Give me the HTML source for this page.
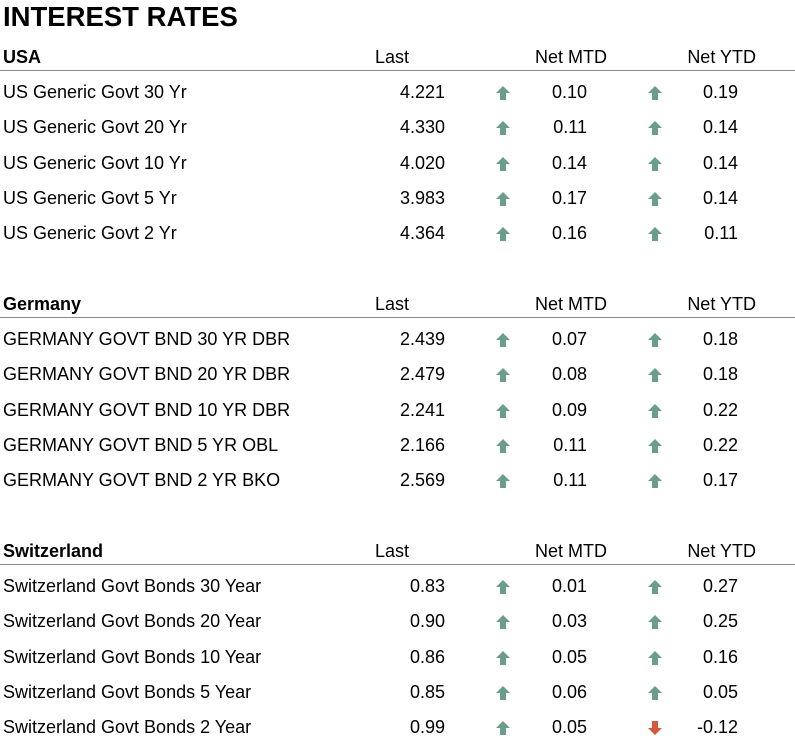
<!DOCTYPE html>
<html><head><meta charset="utf-8"><style>
body{margin:0;width:795px;height:742px;background:#fff;font-family:"Liberation Sans",sans-serif;color:#000;position:relative;overflow:hidden}
.t{position:absolute;white-space:nowrap;font-size:18px;line-height:20px}
.h{font-weight:bold}
.r{text-align:right}
.line{position:absolute;left:0;width:795px;height:1px;background:#8a8a8a}
svg.a{position:absolute}
</style></head><body>
<div class="t h" style="left:3px;top:2px;font-size:27.5px;line-height:30px">INTEREST RATES</div>
<div id="root"></div>
<script>
const sections=["USA","Germany","Switzerland"];
const names=[
["US Generic Govt 30 Yr","US Generic Govt 20 Yr","US Generic Govt 10 Yr","US Generic Govt 5 Yr","US Generic Govt 2 Yr"],
["GERMANY GOVT BND 30 YR DBR","GERMANY GOVT BND 20 YR DBR","GERMANY GOVT BND 10 YR DBR","GERMANY GOVT BND 5 YR OBL","GERMANY GOVT BND 2 YR BKO"],
["Switzerland Govt Bonds 30 Year","Switzerland Govt Bonds 20 Year","Switzerland Govt Bonds 10 Year","Switzerland Govt Bonds 5 Year","Switzerland Govt Bonds 2 Year"]];
const lastVals=[["4.221","4.330","4.020","3.983","4.364"],["2.439","2.479","2.241","2.166","2.569"],["0.83","0.90","0.86","0.85","0.99"]];
const mtdVals=[["0.10","0.11","0.14","0.17","0.16"],["0.07","0.08","0.09","0.11","0.11"],["0.01","0.03","0.05","0.06","0.05"]];
const ytdVals=[["0.19","0.14","0.14","0.14","0.11"],["0.18","0.18","0.22","0.22","0.17"],["0.27","0.25","0.16","0.05","-0.12"]];
const root=document.getElementById('root');
function txt(s,x,y,cls,name,w){const d=document.createElement('div');d.className='t '+cls;d.textContent=s;d.style.top=y+'px';
 if(w){d.style.left=(x-w)+'px';d.style.width=w+'px';}else d.style.left=x+'px';
 
 
 root.appendChild(d);}
function arrow(x,y,v,name){const up=parseFloat(v)>=0;const ns='http://www.w3.org/2000/svg';const s=document.createElementNS(ns,'svg');
 s.setAttribute('class','a');s.setAttribute('width','16');s.setAttribute('height','16');s.style.left=x+'px';s.style.top=y+'px';
 const p=document.createElementNS(ns,'path');
 p.setAttribute('d',up?'M8 1 L15 8 L11 8 L11 15 L5 15 L5 8 L1 8 Z':'M8 15 L15 8 L11 8 L11 1 L5 1 L5 8 L1 8 Z');
 p.setAttribute('fill',up?'#6a9e8a':'#d4583c');s.appendChild(p);
 
 
 root.appendChild(s);}
sections.forEach((sec,i)=>{const y0=47+i*247;
 txt(sec,3,y0,'h','section-header-'+sec.toLowerCase());
 txt('Last',409,y0,'r','last-header',80);
 txt('Net MTD',607,y0,'r','net-mtd-header',100);
 txt('Net YTD',756,y0,'r','net-ytd-header',100);
 const l=document.createElement('div');l.className='line';l.style.top=(y0+23)+'px';
 
 
 root.appendChild(l);
 names[i].forEach((n,j)=>{const y=y0+35+j*35.3;
  txt(n,3,y,'','bond-name');
  txt(lastVals[i][j],445,y,'r','last-value',100);
  arrow(495,y+3,mtdVals[i][j],'mtd-arrow');
  txt(mtdVals[i][j],587,y,'r','mtd-value',100);
  arrow(647,y+3,ytdVals[i][j],'ytd-arrow');
  txt(ytdVals[i][j],738,y,'r','ytd-value',100);
 });
});
</script>
</body></html>
